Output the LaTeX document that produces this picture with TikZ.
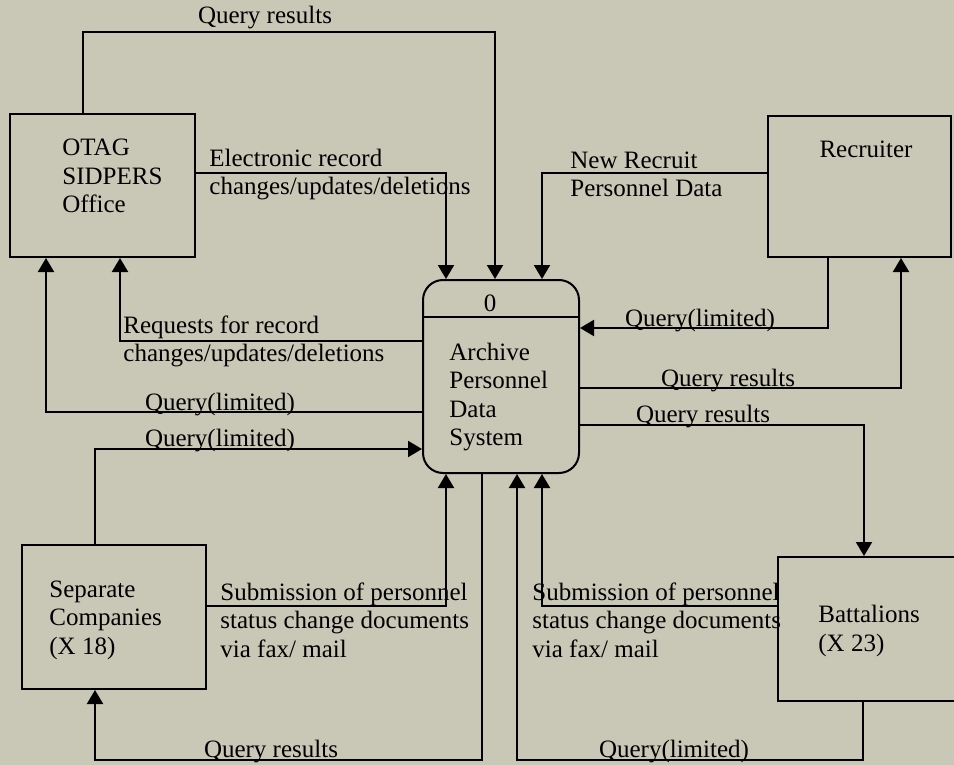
\documentclass[tikz,border=0pt]{standalone}
\usepackage{fontspec}
\setmainfont{Liberation Serif}
\usetikzlibrary{arrows.meta}
\definecolor{paper}{RGB}{201,199,182}
\tikzset{
  entity/.style={draw,line width=1pt,inner sep=0pt},
  flow/.style={->,line width=1pt},
  lbl/.style={inner sep=0pt,align=left,font=\fontsize{12.5}{14.3}\selectfont},
}
\begin{document}
\begin{tikzpicture}[x=0.5pt,y=-0.5pt,>={Triangle[length=7pt,width=8pt]}]
 \fill[paper] (0,0) rectangle (954,765);
 \useasboundingbox (0,0) rectangle (954,765);
 % entities and the process
 \node[entity,minimum width=92.5pt,minimum height=71.5pt] (otag) at (102.5,185.5) {};
 \node[entity,minimum width=91.5pt,minimum height=70.5pt] (rec) at (859.5,186.5) {};
 \node[entity,minimum width=92pt,minimum height=72pt] (sep) at (114,617) {};
 \node[entity,minimum width=92pt,minimum height=72pt] (bat) at (870,629) {};
 \node[entity,rounded corners=10pt,minimum width=78pt,minimum height=96.5pt] (dps) at (501,376.5) {};
 \coordinate (div) at (0,317);
 \draw[line width=1pt] (dps.west |- div) -- (dps.east |- div);
 \node[lbl,anchor=west] (otagtxt) at (62,176) {OTAG\\SIDPERS\\Office};
 \node[lbl] (rectxt) at (866,149) {Recruiter};
 \node[lbl,anchor=west] (septxt) at (49,620) {Separate\\Companies\\(X 18)};
 \node[lbl,anchor=west] (battxt) at (818,631) {Battalions\\(X 23)};
 \node[lbl] (dpsnum) at (490,303) {0};
 \node[lbl,anchor=west] (dpstxt) at (449,397) {Archive\\Personnel\\Data\\System};
 % flows
 \coordinate (qr1a) at (83,32); \coordinate (qr1b) at (495,32);
 \draw[flow] (otag.north -| qr1a) |- (qr1b) -- (dps.north -| qr1b);
 \coordinate (er) at (446,173);
 \draw[flow] (otag.east |- er) -| (dps.north -| er);
 \coordinate (nr) at (542,173);
 \draw[flow] (rec.west |- nr) -| (dps.north -| nr);
 \coordinate (ql1) at (828,328);
 \draw[flow] (rec.south -| ql1) |- (dps.east |- ql1);
 \coordinate (qr2) at (901,388);
 \draw[flow] (dps.east |- qr2) -| (rec.south -| qr2);
 \coordinate (qr3) at (864,425);
 \draw[flow] (dps.east |- qr3) -| (bat.north -| qr3);
 \coordinate (rq) at (120,341);
 \draw[flow] (dps.west |- rq) -| (otag.south -| rq);
 \coordinate (ql2) at (46,412);
 \draw[flow] (dps.west |- ql2) -| (otag.south -| ql2);
 \coordinate (ql3) at (95,449);
 \draw[flow] (sep.north -| ql3) |- (dps.west |- ql3);
 \coordinate (sb1) at (446,606);
 \draw[flow] (sep.east |- sb1) -| (dps.south -| sb1);
 \coordinate (sb2) at (542,606);
 \draw[flow] (bat.west |- sb2) -| (dps.south -| sb2);
 \coordinate (ql4a) at (863,760); \coordinate (ql4b) at (517,760);
 \draw[flow] (bat.south -| ql4a) |- (ql4b) -- (dps.south -| ql4b);
 \coordinate (qr4a) at (482,760); \coordinate (qr4b) at (95,760);
 \draw[flow] (dps.south -| qr4a) |- (qr4b) -- (sep.south -| qr4b);
 % flow labels
 \node[lbl] (qrtop) at (265,18) {Query results};
 \node[lbl,anchor=west] (ertxt) at (209,174.5) {Electronic record\\changes/updates/deletions};
 \node[lbl,anchor=west] (nrtxt) at (570,174.5) {New Recruit\\Personnel Data};
 \node[lbl,anchor=west] (rqtxt) at (123,341.5) {Requests for record\\changes/updates/deletions};
 \node[lbl] (ql2txt) at (220,405) {Query(limited)};
 \node[lbl] (ql3txt) at (220,441) {Query(limited)};
 \node[lbl] (ql1txt) at (700,321) {Query(limited)};
 \node[lbl] (qr2txt) at (728,381) {Query results};
 \node[lbl] (qr3txt) at (703,417) {Query results};
 \node[lbl,anchor=west] (sb1txt) at (220,620) {Submission of personnel\\status change documents\\via fax/ mail};
 \node[lbl,anchor=west] (sb2txt) at (532,620) {Submission of personnel\\status change documents\\via fax/ mail};
 \node[lbl] (qr4txt) at (271,752) {Query results};
 \node[lbl] (ql4txt) at (674,752) {Query(limited)};
\end{tikzpicture}
\end{document}
